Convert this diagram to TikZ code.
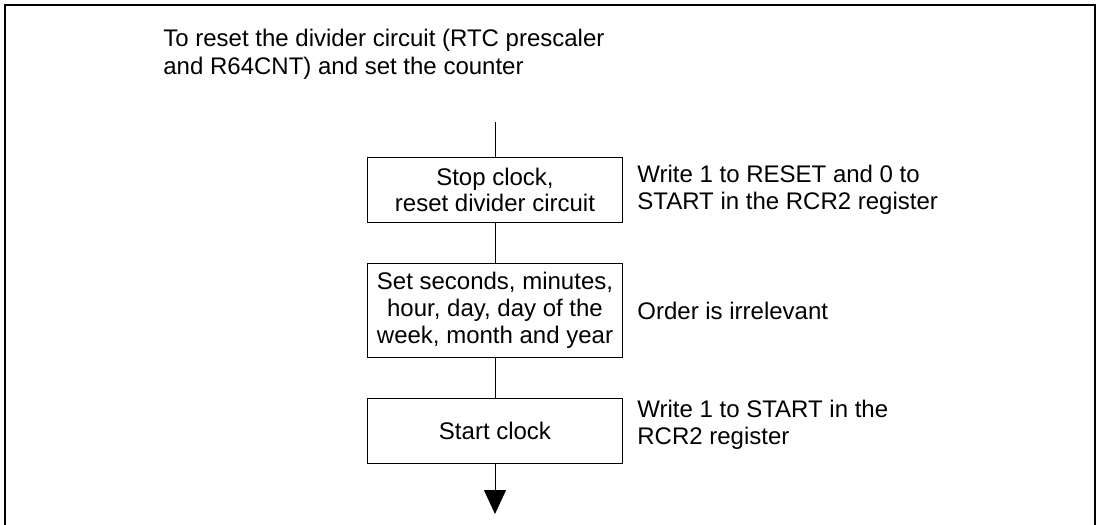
\documentclass[tikz,border=0pt]{standalone}
\usepackage{fontspec}
\setmainfont{Liberation Sans}
\usetikzlibrary{arrows.meta, positioning}

\begin{document}
\begin{tikzpicture}[
        x=0.5pt, y=-0.5pt,
        node distance=20pt,
        font=\fontsize{12pt}{13.4pt}\selectfont,
        stepbox/.style={draw, line width=0.5pt, minimum width=127.5pt, minimum height=32.5pt, inner sep=1pt, align=center},
        note/.style={align=left, inner sep=0pt, anchor=west},
        line/.style={line width=0.5pt},
        arr/.style={-{Triangle[width=11pt, length=12pt]}, line width=0.5pt}
      ]
        \useasboundingbox (0,0) rectangle (1099,525);
        % frame, open at the bottom
        \draw[line width=1pt] (5,525) -- (5,5) -- (1095,5) -- (1095,525);

        \node[align=left, inner sep=0pt, anchor=north west, font=\fontsize{12pt}{14pt}\selectfont] (title) at (163,29)
          {To reset the divider circuit (RTC prescaler\\and R64CNT) and set the counter};

        \coordinate (in) at (495,122);
        \node[stepbox, anchor=north] (stop) at (495,157) {Stop clock,\\reset divider circuit};
        \node[stepbox, below=of stop, minimum height=47pt] (set) {Set seconds, minutes,\\hour, day, day of the\\week, month and year};
        \node[stepbox, below=of set] (start) {Start clock};
        \coordinate[below=25pt of start] (out);

        \node[note, right=7pt of stop] (stopnote) {Write 1 to RESET and 0 to\\START in the RCR2 register};
        \node[note, right=7pt of set] (setnote) {Order is irrelevant};
        \node[note, right=7pt of start, yshift=3pt] (startnote) {Write 1 to START in the\\RCR2 register};

        \draw[line] (in) -- (stop);
        \draw[line] (stop) -- (set);
        \draw[line] (set) -- (start);
        \draw[arr] (start) -- (out);
      \end{tikzpicture}
\end{document}
